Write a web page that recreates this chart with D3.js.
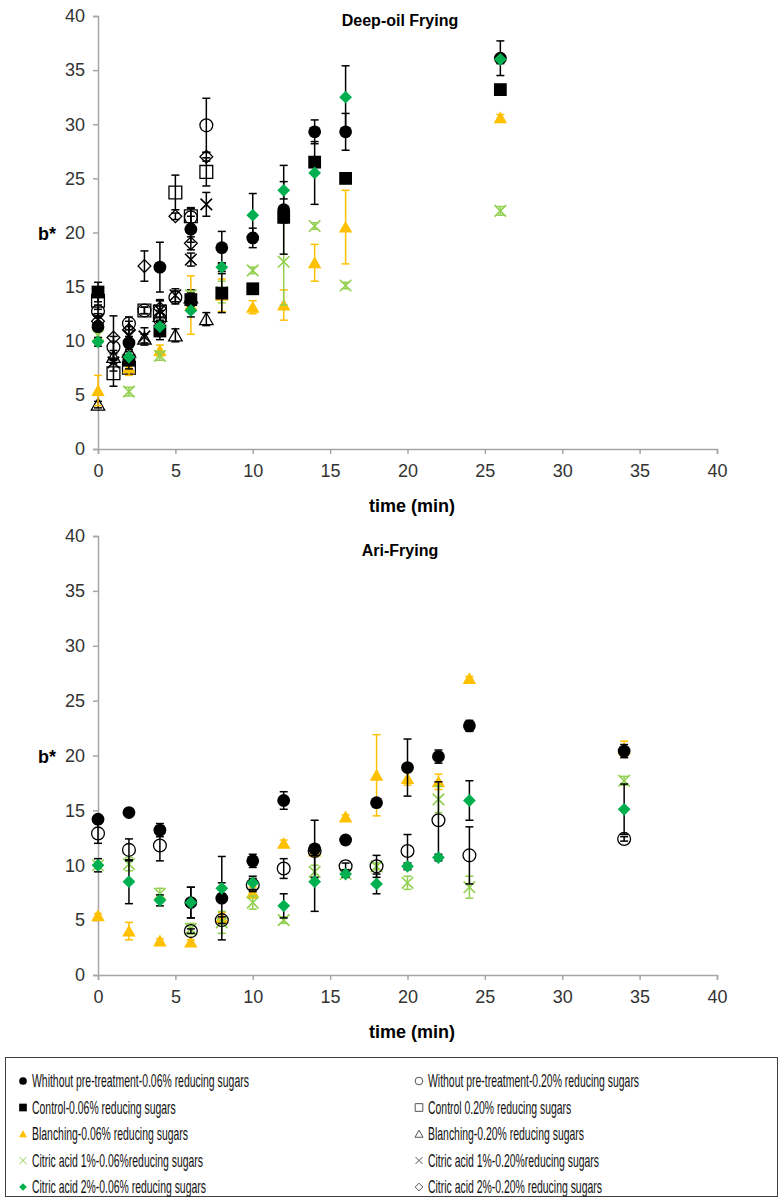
<!DOCTYPE html>
<html>
<head>
<meta charset="utf-8">
<script src="https://cdn.jsdelivr.net/npm/d3@7"></script>
<style>
  body { margin: 0; background: #fff; }
  svg text { font-family: 'Liberation Sans', Arial, sans-serif; }
</style>
</head>
<body>
<svg id="chart" width="780" height="1201"></svg>
<script>
// sampling times (min)
const deepTimeLow = [0, 2, 4, 6, 8, 10, 12, 14, 16, 26]
const deepTimeHigh = [0, 1, 2, 3, 4, 5, 6, 7]
const airTime = [0, 2, 4, 6, 8, 10, 12, 14, 16, 18, 20, 22, 24, 34]
const axisTicks = [0, 5, 10, 15, 20, 25, 30, 35, 40]

// Deep-oil frying, 0.06% reducing sugars
const deepNoPre06 = [11.3, 9.8, 16.8, 20.3, 18.6, 19.5, 22.1, 29.3, 29.3, 36.1]
const deepNoPre06Err = [0.4, 0.6, 2.3, 1.2, 1.5, 0.9, 4.1, 1.1, 1.7, 1.6]
const deepControl06 = [14.5, 8.2, 10.9, 13.8, 14.4, 14.8, 21.4, 26.5, 25.0, 33.2]
const deepControl06Err = [0.9, 0.8, 0.8, 0.6, 1.8, 0.3, 0.5, 0.4, 0.4, 0.3]
const deepBlanch06 = [5.4, 7.5, 9.1, 13.3, 14.2, 13.1, 13.3, 17.2, 20.5, 30.6]
const deepBlanch06Err = [1.4, 0.7, 0.5, 2.7, 1.5, 0.6, 1.4, 1.7, 3.4, 0.3]
const deepCitric1_06 = [10.5, 5.3, 8.6, 14.2, 14.5, 16.5, 17.3, 20.6, 15.1, 22.0]
const deepCitric1_06Err = [0.5, 0.4, 0.4, 0.4, 1.0, 0.3, 4.0, 0.3, 0.3, 0.4]
const deepCitric2_06 = [9.9, 8.5, 11.3, 12.8, 16.8, 21.6, 23.9, 25.5, 32.5, 36.0]
const deepCitric2_06Err = [0.4, 0.5, 0.5, 0.6, 0.4, 2.0, 0.8, 2.9, 2.9, 0.4]

// Deep-oil frying, 0.20% reducing sugars
const deepNoPre20 = [12.7, 9.4, 11.6, 12.8, 12.0, 14.0, 21.4, 29.9]
const deepNoPre20Err = [0.6, 1.0, 0.6, 0.3, 1.2, 0.6, 0.8, 2.5]
const deepControl20 = [13.7, 7.0, 7.5, 12.8, 12.7, 23.7, 21.5, 25.6]
const deepControl20Err = [0.8, 1.2, 0.6, 0.3, 1.0, 1.6, 0.8, 1.3]
const deepBlanch20 = [4.1, 8.5, 9.0, 10.2, 12.3, 10.5, 14.0, 12.0]
const deepBlanch20Err = [0.3, 0.6, 0.6, 0.4, 0.5, 0.6, 0.7, 0.6]
const deepCitric1_20 = [12.0, 8.0, 10.5, 10.4, 12.8, 14.2, 17.5, 22.6]
const deepCitric1_20Err = [0.5, 0.8, 0.8, 0.8, 0.9, 0.6, 0.6, 1.1]
const deepCitric2_20 = [11.8, 10.3, 11.0, 16.9, 13.0, 21.5, 19.0, 27.0]
const deepCitric2_20Err = [0.5, 2.0, 0.8, 1.4, 0.8, 0.3, 0.6, 0.4]

// Air frying
const airNoPre06 = [14.2, 14.8, 13.2, 6.6, 7.0, 10.4, 15.9, 11.5, 12.3, 15.7, 18.9, 19.9, 22.7, 20.4]
const airNoPre06Err = [0.3, 0.2, 0.6, 1.4, 3.8, 0.6, 0.8, 2.6, 0.2, 0.3, 2.6, 0.6, 0.5, 0.6]
const airNoPre20 = [12.9, 11.4, 11.8, 4.0, 5.0, 8.2, 9.7, 11.3, 9.9, 9.9, 11.3, 14.1, 10.9, 12.4]
const airNoPre20Err = [0.9, 1.0, 1.4, 0.2, 0.3, 0.6, 0.9, 0.4, 0.3, 1.0, 1.5, 3.5, 2.6, 0.2]
const airBlanch06 = [5.4, 4.0, 3.1, 3.0, 5.2, 7.5, 12.0, 11.3, 14.4, 18.2, 17.9, 17.6, 27.0, 20.6]
const airBlanch06Err = [0.2, 0.8, 0.2, 0.2, 0.5, 0.5, 0.3, 0.5, 0.2, 3.7, 0.6, 0.7, 0.2, 0.7]
const airCitric1_06 = [10.0, 10.1, 7.4, 4.2, 4.8, 6.6, 5.0, 9.4, 9.2, 9.9, 8.4, 16.0, 8.0, 17.7]
const airCitric1_06Err = [0.3, 0.6, 0.5, 0.5, 1.0, 0.6, 0.3, 0.6, 0.2, 0.3, 0.6, 1.2, 1.0, 0.4]
const airCitric2_06 = [10.0, 8.5, 6.8, 6.6, 7.9, 8.4, 6.3, 8.5, 9.2, 8.3, 9.9, 10.7, 15.9, 15.1]
const airCitric2_06Err = [0.6, 2.0, 0.5, 1.4, 0.5, 0.6, 1.1, 2.7, 0.3, 0.9, 0.3, 0.3, 1.8, 2.3]

const legendLabels = [
  ['noPre06', 'Whithout pre-treatment-0.06% reducing sugars'],
  ['noPre20', 'Without pre-treatment-0.20% reducing sugars'],
  ['control06', 'Control-0.06% reducing sugars'],
  ['control20', 'Control 0.20% reducing sugars'],
  ['blanch06', 'Blanching-0.06% reducing sugars'],
  ['blanch20', 'Blanching-0.20% reducing sugars'],
  ['citric1_06', 'Citric acid 1%-0.06%reducing sugars'],
  ['citric1_20', 'Citric acid 1%-0.20%reducing sugars'],
  ['citric2_06', 'Citric acid 2%-0.06% reducing sugars'],
  ['citric2_20', 'Citric acid 2%-0.20% reducing sugars']
]

const YELLOW = '#FFC000'
const LIGHTGREEN = '#92D050'
const GREEN = '#00B050'

// marker look per series
const styles = {
  noPre06: { shape: 'circle', fill: '#000', stroke: 'none', err: '#000' },
  noPre20: { shape: 'circle', fill: 'none', stroke: '#000', err: '#000' },
  control06: { shape: 'square', fill: '#000', stroke: 'none', err: '#000' },
  control20: { shape: 'square', fill: 'none', stroke: '#000', err: '#000' },
  blanch06: { shape: 'triangle', fill: YELLOW, stroke: 'none', err: YELLOW },
  blanch20: { shape: 'triangle', fill: 'none', stroke: '#000', err: '#000' },
  citric1_06: { shape: 'x', fill: 'none', stroke: LIGHTGREEN, err: LIGHTGREEN },
  citric1_20: { shape: 'x', fill: 'none', stroke: '#000', err: '#000' },
  citric2_06: { shape: 'diamond', fill: GREEN, stroke: 'none', err: '#000' },
  citric2_20: { shape: 'diamond', fill: 'none', stroke: '#000', err: '#000' }
}

function shapePath (shape, k) {
  const s = 6.4 * k
  if (shape === 'circle') return d3.symbol(d3.symbolCircle, Math.PI * s * s)()
  if (shape === 'square') return `M${-s},${-s}H${s}V${s}H${-s}Z`
  if (shape === 'triangle') return `M0,${-s}L${s * 1.05},${s * 0.85}L${-s * 1.05},${s * 0.85}Z`
  if (shape === 'diamond') return `M0,${-s}L${s},0L0,${s}L${-s},0Z`
  const h = s * 0.9
  return `M${-h},${-h}L${h},${h}M${-h},${h}L${h},${-h}`
}

const svg = d3.select('#chart')

function drawPanel (cfg) {
  const xScale = d3.scaleLinear().domain([0, 40]).range([98, 717])
  const yScale = d3.scaleLinear().domain([0, 40]).range([cfg.bottom, cfg.top])
  const g = svg.append('g')

  const yAxis = d3.axisLeft(yScale).tickValues(axisTicks).tickSize(5).tickPadding(8)
  const xAxis = d3.axisBottom(xScale).tickValues(axisTicks).tickSize(5).tickPadding(10)

  g.append('g')
    .attr('transform', 'translate(98,0)')
    .call(yAxis)
  g.append('g')
    .attr('transform', `translate(0,${cfg.bottom})`)
    .call(xAxis)
  g.selectAll('.domain').attr('stroke', '#a6a6a6').attr('stroke-width', 1.5)
  g.selectAll('.tick line').attr('stroke', '#a6a6a6').attr('stroke-width', 1.5)
  g.selectAll('.tick text')
    .attr('font-size', 18)
    .attr('fill', '#333')
    .attr('font-family', "'Liberation Sans', Arial, sans-serif")

  g.append('text')
    .attr('x', 400).attr('y', cfg.titleY)
    .attr('text-anchor', 'middle')
    .attr('font-weight', 'bold').attr('font-size', 16)
    .text(cfg.title)
  g.append('text')
    .attr('x', 412).attr('y', cfg.bottom + 63)
    .attr('text-anchor', 'middle')
    .attr('font-weight', 'bold').attr('font-size', 18)
    .text('time (min)')
  g.append('text')
    .attr('x', 38).attr('y', yScale(20) + 7)
    .attr('text-anchor', 'start')
    .attr('font-weight', 'bold').attr('font-size', 18)
    .text('b*')

  cfg.series.forEach(sr => {
    const st = styles[sr.key]
    const pts = sr.x.map((t, i) => ({ t, v: sr.y[i], e: sr.err[i] }))
    const sg = g.append('g')
    const eb = sg.selectAll('g.err').data(pts).join('g').attr('class', 'err')
      .attr('stroke', st.err).attr('stroke-width', 1.5)
    eb.append('line')
      .attr('x1', d => xScale(d.t)).attr('x2', d => xScale(d.t))
      .attr('y1', d => yScale(d.v + d.e)).attr('y2', d => yScale(d.v - d.e))
    eb.append('line')
      .attr('x1', d => xScale(d.t) - 4).attr('x2', d => xScale(d.t) + 4)
      .attr('y1', d => yScale(d.v + d.e)).attr('y2', d => yScale(d.v + d.e))
    eb.append('line')
      .attr('x1', d => xScale(d.t) - 4).attr('x2', d => xScale(d.t) + 4)
      .attr('y1', d => yScale(d.v - d.e)).attr('y2', d => yScale(d.v - d.e))
    sg.selectAll('path.mk').data(pts).join('path').attr('class', 'mk')
      .attr('transform', d => `translate(${xScale(d.t)},${yScale(d.v)})`)
      .attr('d', shapePath(st.shape, 1))
      .attr('fill', st.fill)
      .attr('stroke', st.stroke)
      .attr('stroke-width', st.shape === 'x' ? 1.6 : 1.3)
  })
}

drawPanel({
  title: 'Deep-oil Frying',
  titleY: 26,
  top: 16,
  bottom: 449,
  series: [
    { key: 'noPre20', x: deepTimeHigh, y: deepNoPre20, err: deepNoPre20Err },
    { key: 'control20', x: deepTimeHigh, y: deepControl20, err: deepControl20Err },
    { key: 'blanch20', x: deepTimeHigh, y: deepBlanch20, err: deepBlanch20Err },
    { key: 'citric1_20', x: deepTimeHigh, y: deepCitric1_20, err: deepCitric1_20Err },
    { key: 'citric2_20', x: deepTimeHigh, y: deepCitric2_20, err: deepCitric2_20Err },
    { key: 'blanch06', x: deepTimeLow, y: deepBlanch06, err: deepBlanch06Err },
    { key: 'citric1_06', x: deepTimeLow, y: deepCitric1_06, err: deepCitric1_06Err },
    { key: 'noPre06', x: deepTimeLow, y: deepNoPre06, err: deepNoPre06Err },
    { key: 'control06', x: deepTimeLow, y: deepControl06, err: deepControl06Err },
    { key: 'citric2_06', x: deepTimeLow, y: deepCitric2_06, err: deepCitric2_06Err }
  ]
})

drawPanel({
  title: 'Ari-Frying',
  titleY: 556,
  top: 536,
  bottom: 975,
  series: [
    { key: 'blanch06', x: airTime, y: airBlanch06, err: airBlanch06Err },
    { key: 'citric1_06', x: airTime, y: airCitric1_06, err: airCitric1_06Err },
    { key: 'noPre20', x: airTime, y: airNoPre20, err: airNoPre20Err },
    { key: 'noPre06', x: airTime, y: airNoPre06, err: airNoPre06Err },
    { key: 'citric2_06', x: airTime, y: airCitric2_06, err: airCitric2_06Err }
  ]
})

// legend
const legend = svg.append('g')
legend.append('rect')
  .attr('x', 5.5).attr('y', 1057.5).attr('width', 772).attr('height', 139)
  .attr('fill', 'none').attr('stroke', '#404040').attr('stroke-width', 1)

legendLabels.forEach(([key, label], i) => {
  const col = i % 2
  const row = Math.floor(i / 2)
  const lx = col === 0 ? 23 : 419
  const ly = 1081 + row * 26.5
  const st = styles[key]
  legend.append('path')
    .attr('transform', `translate(${lx},${ly})`)
    .attr('d', shapePath(st.shape, 0.6))
    .attr('fill', st.fill)
    .attr('stroke', st.stroke === 'none' ? 'none' : (st.stroke === '#000' ? '#555' : st.stroke))
    .attr('stroke-width', 1)
  legend.append('text')
    .attr('x', 0).attr('y', 0)
    .attr('transform', `translate(${lx + 9},${ly + 6}) scale(0.58,1)`)
    .attr('font-size', 18)
    .attr('fill', '#111')
    .text(label)
})
</script>
</body>
</html>
